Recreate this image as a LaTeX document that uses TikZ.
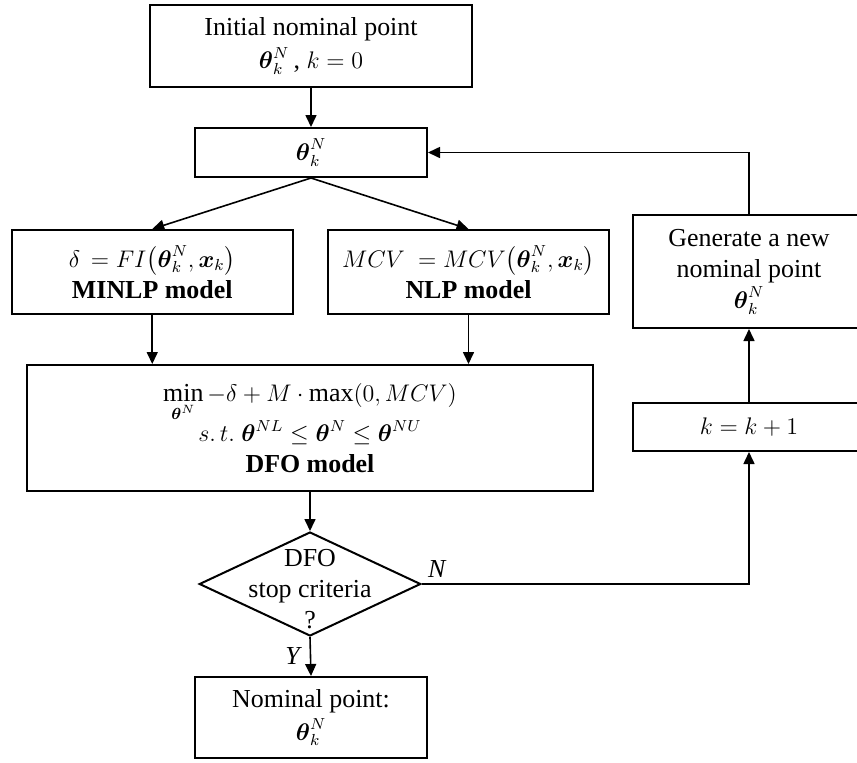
\documentclass[tikz,border=0pt]{standalone}
\usepackage{amsmath,amssymb}
\usepackage{fontspec}
\setmainfont{Liberation Serif}[Scale=1.08]
\usetikzlibrary{shapes.geometric,arrows.meta}

\tikzset{
  block/.style={draw,line width=1pt,align=center,inner sep=0pt,
    font=\fontsize{12}{15.5}\selectfont},
  decide/.style={draw,diamond,line width=1pt,inner sep=0pt,
    minimum width=110.75pt,minimum height=52pt},
  flow/.style={line width=0.8pt,-{Triangle[length=6pt,width=5.5pt]}},
  tag/.style={font=\fontsize{12}{14}\selectfont\itshape,inner sep=1pt}
}
\newcommand{\thN}{\boldsymbol{\theta}_k^N}

\begin{document}
\begin{tikzpicture}[x=0.5pt,y=-0.5pt]

% Page size
\useasboundingbox (0,0) rectangle (857,762);

% Main column
\node[block,minimum width=161pt,minimum height=41pt] (init) at (311,46)
  {Initial nominal point\\[1pt] $\thN$\,, $k=0$};
\node[block,minimum width=116pt,minimum height=24.5pt] (theta) at (311,152.5)
  {$\thN$};
\node[block,minimum width=140.75pt,minimum height=42pt] (minlp) at (152.25,272)
  {$\delta\,=FI\bigl(\thN,\boldsymbol{x}_k\bigr)$\\ \textbf{MINLP model}};
\node[block,minimum width=140.5pt,minimum height=42pt] (nlp) at (468.5,272)
  {$MCV\ =MCV\bigl(\thN,\boldsymbol{x}_k\bigr)$\\ \textbf{NLP model}};
\node[block,minimum width=283pt,minimum height=63pt] (dfo) at (310,428)
  {$\displaystyle\min_{\boldsymbol{\theta}^N}-\delta+M\cdot\max(0,MCV)$\\[-2pt]
   $s.\,t.\ \boldsymbol{\theta}^{NL}\le\boldsymbol{\theta}^{N}\le\boldsymbol{\theta}^{NU}$\\
   \textbf{DFO model}};
\node[decide] (stop) at (310,584) {};
\node[block,draw=none] (stoptxt) at (310,589) {DFO\\ stop criteria\\ ?};
\node[block,minimum width=116pt,minimum height=40.5pt] (final) at (311,717.5)
  {Nominal point:\\[1pt] $\thN$};

% Loop column
\node[block,minimum width=116pt,minimum height=24pt] (kinc) at (749,427)
  {$k=k+1$};
\node[block,minimum width=116pt,minimum height=56.5pt] (gen) at (749,271.5)
  {Generate a new\\ nominal point\\ $\thN$};

% Arrows
\draw[flow] (init.south) -- (theta.north);
\draw[flow] (theta.south) -- (minlp.north);
\draw[flow] (theta.south) -- (nlp.north);
\draw[flow] (minlp.south) -- (minlp.south |- dfo.north);
\draw[flow] (nlp.south) -- (nlp.south |- dfo.north);
\draw[flow] (dfo.south) -- (stop.north);
\draw[flow] (stop.south) -- (final.north) node[tag,midway,left=4pt] {Y};
\draw[flow] (stop.east) -| (kinc.south);
\node[tag,anchor=south west,xshift=2pt,yshift=2pt] (no) at (stop.east) {N};
\draw[flow] (kinc.north) -- (gen.south);
\draw[flow] (gen.north) |- (theta.east);
\end{tikzpicture}
\end{document}
